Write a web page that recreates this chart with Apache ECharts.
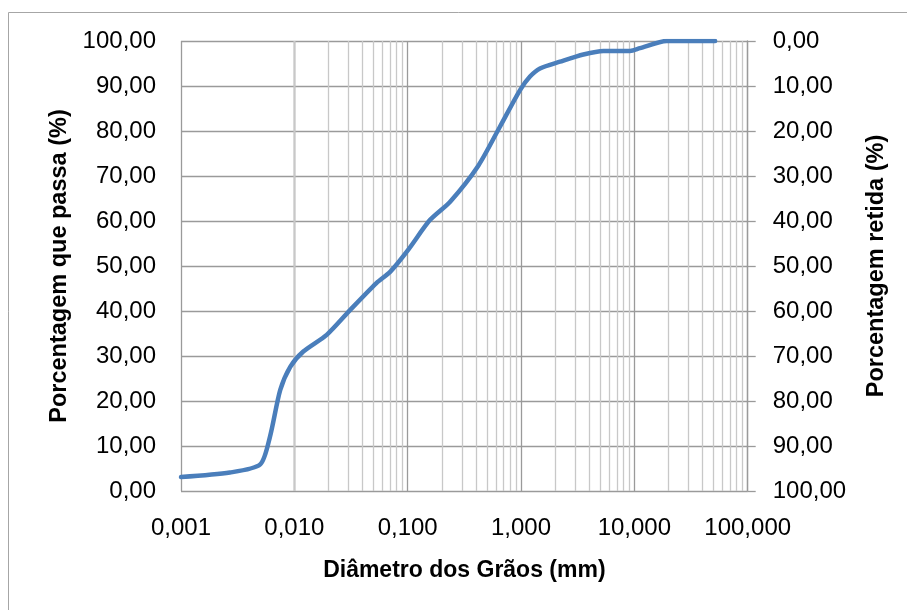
<!DOCTYPE html>
<html>
<head>
<meta charset="utf-8">
<script src="https://cdn.jsdelivr.net/npm/echarts@6/dist/echarts.min.js"></script>
<style>html,body{margin:0;padding:0;background:#fff}#c{width:907px;height:610px}</style>
</head>
<body>
<div id="c"></div>
<script>
// Diameter of grains (mm) and percentage passing (%)
var diameters = [0.001, 0.0027, 0.005, 0.0061, 0.0075, 0.0092, 0.012, 0.0193, 0.031, 0.053, 0.070, 0.101, 0.157, 0.237, 0.42, 0.653, 0.98, 1.2, 1.47, 2.21, 3.55, 5.33, 9.17, 11.2, 19.3, 51.6];
var passing   = [3.1,   4.1,    5.9,   12.1,   22.4,   27.6,   31.0,  34.7,   40.2,  46.2,  48.7,  53.6,  60.2,  64.3,  72.3, 81.0,  89.1, 92.1, 93.9, 95.4, 97.0, 97.8, 97.8, 98.4, 100.0, 100.0];
var xTickLabels = ['0,001', '0,010', '0,100', '1,000', '10,000', '100,000'];
var decades = [0.001, 0.01, 0.1, 1, 10];
var minorMultipliers = [2, 3, 4, 5, 6, 7, 8, 9];

var points = diameters.map(function (d, i) { return [d, passing[i]]; });
var minorLines = [];
decades.forEach(function (d) {
  minorMultipliers.forEach(function (m) { minorLines.push({ xAxis: +(d * m).toPrecision(6) }); });
});

var FONT = 'Liberation Sans';
var chart = echarts.init(document.getElementById('c'), null, { renderer: 'canvas' });
chart.setOption({
  animation: false,
  backgroundColor: '#fff',
  graphic: [{
    type: 'rect', silent: true, z: -10,
    shape: { x: 8.5, y: 12.5, width: 1000, height: 1000 },
    style: { fill: 'none', stroke: '#a6a6a6', lineWidth: 1 }
  }],
  grid: { left: 181, right: 159.3, top: 41, bottom: 119, containLabel: false },
  xAxis: {
    type: 'log', logBase: 10, min: 0.001, max: 100,
    axisLine: { show: false },
    axisTick: { show: false },
    splitLine: { show: true, showMinLine: true, showMaxLine: true, lineStyle: { color: '#9a9a9a', width: 1.3 } },
    axisLabel: {
      margin: 25, color: '#000', fontFamily: FONT, fontSize: 24,
      formatter: function (v) {
        var i = Math.round(Math.log10(v)) + 3;
        return xTickLabels[i] !== undefined ? xTickLabels[i] : '';
      }
    },
    name: 'Diâmetro dos Grãos (mm)', nameLocation: 'middle', nameGap: 68,
    nameTextStyle: { color: '#000', fontFamily: FONT, fontSize: 23, fontWeight: 'bold' }
  },
  yAxis: [{
    type: 'value', min: 0, max: 100, interval: 10, position: 'left',
    axisLine: { show: false }, axisTick: { show: false },
    splitLine: { show: true, lineStyle: { color: '#9a9a9a', width: 1.3 } },
    axisLabel: {
      margin: 25, color: '#000', fontFamily: FONT, fontSize: 24,
      formatter: function (v) { return v.toFixed(2).replace('.', ','); }
    },
    name: 'Porcentagem que passa (%)', nameLocation: 'middle', nameGap: 106, nameRotate: 90,
    nameTextStyle: { color: '#000', fontFamily: FONT, fontSize: 23.5, fontWeight: 'bold' }
  }, {
    type: 'value', min: 0, max: 100, interval: 10, position: 'right', inverse: true,
    axisLine: { show: true, lineStyle: { color: '#9a9a9a', width: 1.3 } },
    axisTick: { show: true, inside: false, length: 8, lineStyle: { color: '#9a9a9a', width: 1.3 } },
    splitLine: { show: false },
    axisLabel: {
      margin: 25, color: '#000', fontFamily: FONT, fontSize: 24,
      formatter: function (v) { return v.toFixed(2).replace('.', ','); }
    },
    name: 'Porcentagem retida (%)', nameLocation: 'middle', nameGap: 117, nameRotate: 90,
    nameTextStyle: { color: '#000', fontFamily: FONT, fontSize: 23.5, fontWeight: 'bold' }
  }],
  series: [{
    type: 'line', data: [], silent: true, z: 1,
    markLine: {
      silent: true, symbol: ['none', 'none'], label: { show: false },
      lineStyle: { color: '#c8c8c8', width: 1.3, type: 'solid' },
      emphasis: { disabled: true },
      data: minorLines
    }
  }, {
    type: 'line', data: points, yAxisIndex: 0, z: 5,
    smooth: 0.25,
    showSymbol: false, symbol: 'none',
    lineStyle: { color: '#4a7ebb', width: 4.5, cap: 'round', join: 'round' }
  }]
});
</script>
</body>
</html>
